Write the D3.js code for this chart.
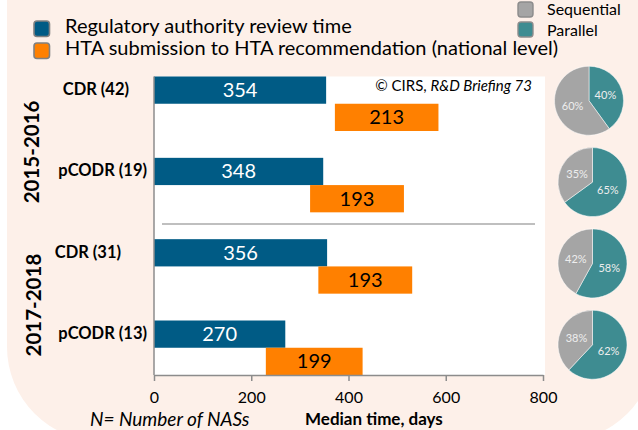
<!DOCTYPE html>
<html><head><meta charset="utf-8">
<script src="https://cdn.jsdelivr.net/npm/d3@7"></script>
<style>
html,body{margin:0;padding:0;background:#fff;}
svg{display:block;font-family:Lato,"Noto Sans",sans-serif;}
</style></head>
<body>
<svg id="c" width="638" height="430"></svg>
<script>
const groups = ["CDR (42)", "pCODR (19)", "CDR (31)", "pCODR (13)"];
const periods = ["2015-2016", "2017-2018"];
const reviewTime = [354, 348, 356, 270];
const htaStart = [372, 321, 338, 230];
const htaTime = [213, 193, 193, 199];
const parallelPct = [40, 65, 58, 62];
const sequentialPct = [60, 35, 42, 38];
const xTicks = [0, 200, 400, 600, 800];
const legendItems = ["Regulatory authority review time", "HTA submission to HTA recommendation (national level)"];
const pieLegend = ["Sequential", "Parallel"];

const C = {blue:"#005b85", orange:"#ff8000", grey:"#a5a5a5", teal:"#3e8c91", bg:"#fdf0e9"};
const svg = d3.select("#c");

// background panel
svg.append("rect").attr("x",7).attr("y",-200).attr("width",648).attr("height",641)
  .attr("rx",94).attr("fill",C.bg);

const x = d3.scaleLinear().domain([0,800]).range([154,543]);
const y = d3.scaleBand().domain(groups).range([76.5,375]).paddingInner(0.33).paddingOuter(0);
const bw = y.bandwidth()/2;

// plot area
svg.append("rect").attr("x",x(0)).attr("y",76.5).attr("width",545-x(0)).attr("height",375-76.5).attr("fill","#fff");

// separator
svg.append("line").attr("x1",162).attr("x2",535).attr("y1",224).attr("y2",224)
  .attr("stroke","#bfbfbf").attr("stroke-width",2);

const rows = groups.map((g,i)=>({g,i}));
// blue bars
svg.selectAll(".rb").data(rows).enter().append("rect")
  .attr("x",x(0)).attr("y",d=>y(d.g)).attr("width",d=>x(reviewTime[d.i])-x(0)).attr("height",bw)
  .attr("fill",C.blue);
svg.selectAll(".rt").data(rows).enter().append("text")
  .attr("x",d=>(x(0)+x(reviewTime[d.i]))/2).attr("y",d=>y(d.g)+bw/2+7)
  .attr("text-anchor","middle").attr("fill","#fff").attr("font-size",20).text(d=>reviewTime[d.i]);
// orange bars
svg.selectAll(".hb").data(rows).enter().append("rect")
  .attr("x",d=>x(htaStart[d.i])).attr("y",d=>y(d.g)+bw).attr("width",d=>x(htaStart[d.i]+htaTime[d.i])-x(htaStart[d.i])).attr("height",bw)
  .attr("fill",C.orange);
svg.selectAll(".ht").data(rows).enter().append("text")
  .attr("x",d=>(x(htaStart[d.i])+x(htaStart[d.i]+htaTime[d.i]))/2).attr("y",d=>y(d.g)+bw*1.5+7)
  .attr("text-anchor","middle").attr("fill","#000").attr("font-size",20).text(d=>htaTime[d.i]);

// category labels
svg.selectAll(".cl").data(rows).enter().append("text")
  .attr("x",d=>d.g.startsWith("p")?147:(d.i<2?129:121)).attr("y",d=>y(d.g)+bw/2+5)
  .attr("text-anchor","end").attr("font-weight","bold").attr("font-size",16.5).attr("fill","#000").text(d=>d.g);

// period labels
periods.forEach((p,k)=>{
  const cy = (y(groups[2*k])+y(groups[2*k+1])+2*bw)/2 + (k===0?7.5:-2);
  svg.append("text").attr("transform",`translate(${k===0?39:41},${cy}) rotate(-90)`)
    .attr("text-anchor","middle").attr("font-weight","bold").attr("font-size",20.5).attr("fill","#000").text(p);
});

// axes
const ax = svg.append("g").attr("transform","translate(0,375)")
  .call(d3.axisBottom(x).tickValues(xTicks).tickSize(6).tickPadding(11).tickSizeOuter(0));
ax.select(".domain").attr("stroke","#8c8c8c").attr("stroke-width",1.5);
ax.selectAll(".tick line").attr("stroke","#8c8c8c").attr("stroke-width",1.5);
ax.selectAll(".tick text").attr("font-size",16).attr("fill","#000").attr("font-family","Lato,sans-serif");
svg.append("line").attr("x1",x(0)).attr("x2",x(0)).attr("y1",76.5).attr("y2",375)
  .attr("stroke","#8c8c8c").attr("stroke-width",1.5);

svg.append("text").attr("x",90).attr("y",426).attr("font-style","italic").attr("font-size",19).attr("fill","#000").text("N= Number of NASs");
svg.append("text").attr("x",305).attr("y",425).attr("font-weight","bold").attr("font-size",17).attr("fill","#000").text("Median time, days");

// copyright
const cp = svg.append("text").attr("x",532).attr("y",91).attr("text-anchor","end").attr("font-size",15).attr("fill","#000");
cp.append("tspan").text("© CIRS, ");
cp.append("tspan").attr("font-style","italic").text("R&D Briefing 73");

// legend
legendItems.forEach((t,k)=>{
  svg.append("rect").attr("x",34).attr("y",21+k*22).attr("width",15.5).attr("height",15.5).attr("rx",3)
    .attr("fill",k===0?C.blue:C.orange).attr("stroke","#808080").attr("stroke-width",1.6);
  svg.append("text").attr("x",65).attr("y",33+k*22).attr("font-size",20).attr("fill","#000").text(t);
});
pieLegend.forEach((t,k)=>{
  svg.append("rect").attr("x",518).attr("y",2+k*20).attr("width",15).attr("height",15).attr("rx",3)
    .attr("fill",k===0?C.grey:C.teal).attr("stroke","#8c8c8c").attr("stroke-width",1.4);
  svg.append("text").attr("x",547).attr("y",15+k*21).attr("font-size",16).attr("fill","#000").text(t);
});

// pies
const pie = d3.pie().sort(null);
const R = 34.5;
const arc = d3.arc().innerRadius(0).outerRadius(R);
const lab = d3.arc().innerRadius(R*0.5).outerRadius(R*0.5);
rows.forEach(d=>{
  const cy = y(d.g)+bw - 3;
  const cx = d.i===0?589:592.5;
  const g = svg.append("g").attr("transform",`translate(${cx},${cy})`);
  const vals = [parallelPct[d.i], sequentialPct[d.i]];
  const arcs = pie(vals);
  g.selectAll("path").data(arcs).enter().append("path").attr("d",arc)
    .attr("fill",(a,j)=>j===0?C.teal:C.grey).attr("stroke","#fff").attr("stroke-width",0.5);
  g.selectAll("text").data(arcs).enter().append("text")
    .attr("transform",a=>`translate(${lab.centroid(a)})`).attr("dy","0.35em")
    .attr("text-anchor","middle").attr("font-size",11).attr("fill","#eeeeee").text(a=>a.data+"%");
});
</script>
</body></html>
